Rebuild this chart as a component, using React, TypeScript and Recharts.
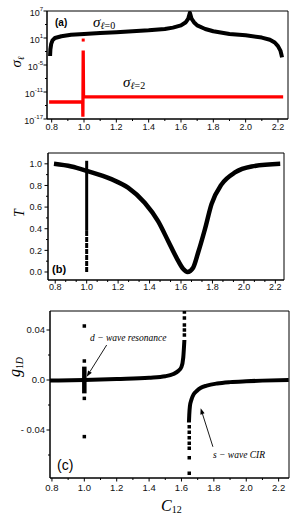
import React from 'react';
import { ComposedChart, Line, Scatter, XAxis, YAxis, ReferenceLine, ReferenceArea } from 'recharts';

// ---------- Panel (a): cross sections (log scale) ----------
const sigma0Points: [number, number][] = [
  [0.79, 1e-3], [0.792, 3e-2], [0.797, 0.5], [0.805, 3], [0.82, 10], [0.86, 25], [0.92, 50],
  [1.0, 80], [1.1, 125], [1.2, 200], [1.3, 316], [1.4, 500], [1.5, 1000], [1.55, 2000],
  [1.6, 6300], [1.63, 3.2e4], [1.645, 2e5], [1.655, 4e6], [1.665, 2e5], [1.68, 3.2e4],
  [1.7, 6300], [1.75, 1000], [1.8, 316], [1.9, 80], [2.0, 40], [2.1, 12.5], [2.15, 4],
  [2.18, 1], [2.2, 0.16], [2.215, 0.016], [2.222, 1.6e-3], [2.225, 5e-4],
];
const sigma2Points: [number, number][] = [
  [0.784, 6e-14], [0.992, 6e-14], [0.993, 3e-17], [0.995, 1.6e-2], [0.997, 8e-13], [2.232, 8e-13],
];
const sigma2Dots: [number, number][] = [[0.995, 3.5]];

// ---------- Panel (b): transmission ----------
const tPoints: [number, number][] = [
  [0.792, 1.0], [0.903, 0.975], [1.0, 0.935], [1.157, 0.858], [1.263, 0.78], [1.369, 0.64],
  [1.454, 0.47], [1.518, 0.287], [1.571, 0.133], [1.613, 0.03], [1.641, 0.0], [1.677, 0.04],
  [1.709, 0.18], [1.752, 0.395], [1.794, 0.627], [1.858, 0.81], [1.943, 0.92], [2.049, 0.975],
  [2.231, 1.0],
];
const tResSolid: [number, number][] = [[1.0, 1.028], [1.0, 0.38]];
const tResDashed: [number, number][] = [[1.0, 0.38], [1.0, 0.0]];

// ---------- Panel (c): effective 1D coupling ----------
const gLeftLine: [number, number][] = [
  [0.785, -0.0005], [1.0, 0.0], [1.2, 0.0008], [1.4, 0.0018], [1.5, 0.003], [1.55, 0.0048],
  [1.58, 0.0072], [1.6, 0.0105], [1.611, 0.018], [1.618, 0.032],
];
const gLeftDots: [number, number][] = [
  [1.618, 0.0544], [1.618, 0.0496], [1.618, 0.044], [1.618, 0.04], [1.618, 0.036],
];
const gRightDots: [number, number][] = [
  [1.648, -0.0374], [1.648, -0.0418], [1.648, -0.0462], [1.648, -0.0506], [1.648, -0.0546],
  [1.648, -0.0622], [1.648, -0.0746],
];
const gRightLine: [number, number][] = [
  [1.646, -0.034], [1.648, -0.028], [1.652, -0.021], [1.662, -0.0155], [1.675, -0.0115],
  [1.694, -0.0088], [1.72, -0.0062], [1.756, -0.0045], [1.82, -0.0028], [1.9, -0.0017],
  [2.0, -0.001], [2.1, -0.0005], [2.262, 0.0],
];
const gResSolid: [number, number][] = [[1.0, 0.0107], [1.0, -0.0107]];
const gResDots: [number, number][] = [[1.0, 0.0432], [1.0, 0.0152], [1.0, -0.0147], [1.0, -0.0453]];

// ---------- Ticks ----------
const xMajor = [0.8, 1.0, 1.2, 1.4, 1.6, 1.8, 2.0, 2.2];
const xMinorHalf = [0.9, 1.1, 1.3, 1.5, 1.7, 1.9, 2.1];
const xMinorThird = xMajor.flatMap((m) => [m + 0.2 / 3, m + 0.4 / 3]).filter((v) => v < 2.25);
const aYMajor = [1e-17, 1e-11, 1e-5, 1e1, 1e7];
const aYMinor = [1e-14, 1e-8, 1e-2, 1e4];
const bYMajor = [0, 0.2, 0.4, 0.6, 0.8, 1.0];
const bYMinor = [0.1, 0.3, 0.5, 0.7, 0.9];
const cYMajor = [-0.04, 0, 0.04];
const cYMinor = [-0.06, -0.02, 0.02];
const cYLabels: Record<string, string> = { '-0.04': '- 0.04', '0': '0.0', '0.04': '0.04' };

const toXY = (pts: [number, number][]) => pts.map(([x, y]) => ({ x, y }));

const SANS = 'Liberation Sans, Arial, sans-serif';
const SERIF = 'Liberation Serif, Times New Roman, serif';

const isIn = (arr: number[], v: number) => arr.some((m) => Math.abs(m - v) < 1e-9);

const makeXTick = (margin: number, fs: number) => (p: any) => {
  const v = p.payload.value;
  const major = xMajor.some((m) => Math.abs(m - v) < 1e-6);
  const ay = p.y - margin;
  return (
    <g>
      <line x1={p.x} x2={p.x} y1={ay} y2={ay + (major ? 3.5 : 2)} stroke="#000" strokeWidth={1} />
      {major && (
        <text x={p.x} y={p.y} dy="0.71em" textAnchor="middle" fontSize={fs} fontFamily={SANS} fill="#111">
          {v.toFixed(1)}
        </text>
      )}
    </g>
  );
};

const makeYTick = (margin: number, majors: number[], fmt: (v: number) => React.ReactNode, fs: number) => (p: any) => {
  const v = p.payload.value;
  const major = isIn(majors, v);
  const ax = p.x + margin;
  return (
    <g>
      <line x1={ax} x2={ax - (major ? 3.5 : 2)} y1={p.y} y2={p.y} stroke="#000" strokeWidth={1} />
      {major && (
        <text x={p.x} y={p.y} dy="0.355em" textAnchor="end" fontSize={fs} fontFamily={SANS} fill="#111">
          {fmt(v)}
        </text>
      )}
    </g>
  );
};

const logTick = (p: any) => {
  const v = p.payload.value;
  const exp = Math.round(Math.log10(v));
  const major = aYMajor.some((m) => Math.round(Math.log10(m)) === exp);
  const ax = p.x + 4;
  return (
    <g>
      <line x1={ax} x2={ax - (major ? 3.5 : 2)} y1={p.y} y2={p.y} stroke="#000" strokeWidth={1} />
      {major && (
        <text x={p.x} y={p.y + 4.5} textAnchor="end" fontFamily={SANS} fill="#111">
          <tspan fontSize={9}>10</tspan>
          <tspan fontSize={6} dy={-5}>{exp}</tspan>
        </text>
      )}
    </g>
  );
};

const squareShape = (size: number, color: string) => (p: any) =>
  <rect x={p.cx - size / 2} y={p.cy - size / 2} width={size} height={size} fill={color} />;

const Arrow = (p: any) => {
  const { x1, y1, x2, y2 } = p;
  const dx = x2 - x1;
  const dy = y2 - y1;
  const L = Math.sqrt(dx * dx + dy * dy) || 1;
  const ux = dx / L;
  const uy = dy / L;
  const hl = 6;
  const hw = 2.2;
  const bx = x2 - ux * hl;
  const by = y2 - uy * hl;
  return (
    <g>
      <line x1={x1} y1={y1} x2={bx} y2={by} stroke="#000" strokeWidth={0.9} />
      <polygon
        points={`${x2},${y2} ${bx - uy * hw},${by + ux * hw} ${bx + uy * hw},${by - ux * hw}`}
        fill="#000"
      />
    </g>
  );
};

const aXDomain: [number, number] = [0.771, 2.262];
const bXDomain: [number, number] = [0.754, 2.255];
const cXDomain: [number, number] = [0.788, 2.264];
const aYDomain: [number, number] = [1e-17, 1e7];
const bYDomain: [number, number] = [-0.074, 1.1];
const cYDomain: [number, number] = [-0.0784, 0.0552];

export default function App() {
  return (
    <div style={{ position: 'absolute', left: 0, top: 0, width: 291, height: 518, background: '#fff' }}>
      {/* Panel (a) */}
      <div style={{ position: 'absolute', left: 0, top: 0 }}>
        <ComposedChart width={291} height={139} margin={{ top: 11, right: 3, bottom: 0, left: 0 }}>
          <XAxis
            type="number" dataKey="x" domain={aXDomain} allowDataOverflow
            ticks={[...xMajor, ...xMinorHalf]} interval={0} tickSize={0} tickLine={false} tickMargin={5}
            tick={makeXTick(5, 9)} height={20} axisLine={{ stroke: '#000' }}
          />
          <YAxis
            type="number" dataKey="y" scale="log" domain={aYDomain} allowDataOverflow
            ticks={[...aYMajor, ...aYMinor]} interval={0} tickSize={0} tickLine={false} tickMargin={4}
            tick={logTick} width={47} axisLine={{ stroke: '#000' }}
          />
          <ReferenceArea x1={aXDomain[0]} x2={aXDomain[1]} y1={aYDomain[0]} y2={aYDomain[1]} fill="none" stroke="#000" strokeWidth={1} ifOverflow="visible" />
          <Line data={toXY(sigma2Points)} dataKey="y" stroke="#ff0000" strokeWidth={3.3} dot={false} activeDot={false} isAnimationActive={false} type="linear" />
          <Scatter data={toXY(sigma2Dots)} dataKey="y" fill="#ff0000" shape={squareShape(3, '#ff0000')} isAnimationActive={false} />
          <Line data={toXY(sigma0Points)} dataKey="y" stroke="#000" strokeWidth={4} strokeLinejoin="round" dot={false} activeDot={false} isAnimationActive={false} type="linear" />
        </ComposedChart>
      </div>

      {/* Panel (b) */}
      <div style={{ position: 'absolute', left: 0, top: 140 }}>
        <ComposedChart width={291} height={160} margin={{ top: 13, right: 7, bottom: 0, left: 0 }}>
          <XAxis
            type="number" dataKey="x" domain={bXDomain} allowDataOverflow
            ticks={[...xMajor, ...xMinorThird]} interval={0} tickSize={0} tickLine={false} tickMargin={4}
            tick={makeXTick(4, 9)} height={20} axisLine={{ stroke: '#000' }}
          />
          <YAxis
            type="number" dataKey="y" domain={bYDomain} allowDataOverflow
            ticks={[...bYMajor, ...bYMinor]} interval={0} tickSize={0} tickLine={false} tickMargin={6}
            tick={makeYTick(6, bYMajor, (v) => v.toFixed(1), 9)} width={48} axisLine={{ stroke: '#000' }}
          />
          <ReferenceArea x1={bXDomain[0]} x2={bXDomain[1]} y1={bYDomain[0]} y2={bYDomain[1]} fill="none" stroke="#000" strokeWidth={1} ifOverflow="visible" />
          <Line data={toXY(tResSolid)} dataKey="y" stroke="#000" strokeWidth={3} dot={false} activeDot={false} isAnimationActive={false} type="linear" />
          <Line data={toXY(tResDashed)} dataKey="y" stroke="#000" strokeWidth={3} strokeDasharray="5 1" dot={false} activeDot={false} isAnimationActive={false} type="linear" />
          <Line data={toXY(tPoints)} dataKey="y" stroke="#000" strokeWidth={4.5} dot={false} activeDot={false} isAnimationActive={false} type="monotone" />
        </ComposedChart>
      </div>

      {/* Panel (c) */}
      <div style={{ position: 'absolute', left: 0, top: 300 }}>
        <ComposedChart width={291} height={218} margin={{ top: 11, right: 2, bottom: 0, left: 0 }}>
          <XAxis
            type="number" dataKey="x" domain={cXDomain} allowDataOverflow
            ticks={[...xMajor, ...xMinorHalf]} interval={0} tickSize={0} tickLine={false} tickMargin={6}
            tick={makeXTick(6, 9.5)} height={40} axisLine={{ stroke: '#000' }}
          />
          <YAxis
            type="number" dataKey="y" domain={cYDomain} allowDataOverflow
            ticks={[...cYMajor, ...cYMinor]} interval={0} tickSize={0} tickLine={false} tickMargin={5}
            tick={makeYTick(5, cYMajor, (v) => cYLabels[String(Math.round(v * 100) / 100)] ?? String(v), 9.5)}
            width={50} axisLine={{ stroke: '#000' }}
          />
          <ReferenceArea x1={cXDomain[0]} x2={cXDomain[1]} y1={cYDomain[0]} y2={cYDomain[1]} fill="none" stroke="#000" strokeWidth={1} ifOverflow="visible" />
          <Line data={toXY(gLeftLine)} dataKey="y" stroke="#000" strokeWidth={4} dot={false} activeDot={false} isAnimationActive={false} type="monotone" />
          <Line data={toXY(gRightLine)} dataKey="y" stroke="#000" strokeWidth={4} dot={false} activeDot={false} isAnimationActive={false} type="monotone" />
          <Line data={toXY(gResSolid)} dataKey="y" stroke="#000" strokeWidth={4.5} dot={false} activeDot={false} isAnimationActive={false} type="linear" />
          <Scatter data={toXY(gLeftDots)} dataKey="y" fill="#000" shape={squareShape(3.5, '#000')} isAnimationActive={false} />
          <Scatter data={toXY(gRightDots)} dataKey="y" fill="#000" shape={squareShape(3.5, '#000')} isAnimationActive={false} />
          <Scatter data={toXY(gResDots)} dataKey="y" fill="#000" shape={squareShape(3.5, '#000')} isAnimationActive={false} />
          <ReferenceLine segment={[{ x: 1.138, y: 0.028 }, { x: 1.015, y: 0.0026 }]} shape={Arrow} ifOverflow="visible" />
          <ReferenceLine segment={[{ x: 1.794, y: -0.0534 }, { x: 1.7185, y: -0.0226 }]} shape={Arrow} ifOverflow="visible" />
        </ComposedChart>
      </div>

      {/* Text overlay */}
      <svg width={291} height={518} style={{ position: 'absolute', left: 0, top: 0, pointerEvents: 'none' }}>
        {/* panel a */}
        <text x={55} y={25.5} fontSize={10} fontWeight="bold" fontFamily={SANS} fill="#000">(a)</text>
        <text x={93} y={27} fontFamily={SERIF} fill="#000">
          <tspan fontSize={15} fontStyle="italic">σ</tspan>
          <tspan fontSize={10} fontStyle="italic" dy={2}>ℓ</tspan>
          <tspan fontSize={10}>=0</tspan>
        </text>
        <text x={123} y={87} fontFamily={SERIF} fill="#000">
          <tspan fontSize={15} fontStyle="italic">σ</tspan>
          <tspan fontSize={10} fontStyle="italic" dy={2}>ℓ</tspan>
          <tspan fontSize={10}>=2</tspan>
        </text>
        <text transform="translate(21,62) rotate(-90)" textAnchor="middle" fontFamily={SERIF} fill="#000">
          <tspan fontSize={15} fontStyle="italic">σ</tspan>
          <tspan fontSize={9} fontStyle="italic" dy={3}>ℓ</tspan>
        </text>
        {/* panel b */}
        <text x={52} y={272.5} fontSize={11} fontWeight="bold" fontFamily={SANS} fill="#000">(b)</text>
        <text transform="translate(23.5,213) rotate(-90)" textAnchor="middle" fontSize={14} fontStyle="italic" fontFamily={SERIF} fill="#000">T</text>
        {/* panel c */}
        <text x={57} y={469.5} fontSize={14} fontFamily={SANS} fill="#000">(c)</text>
        <text x={90} y={340.7} fontSize={9.5} fontStyle="italic" fontFamily={SERIF} fill="#000">d − wave resonance</text>
        <text x={213} y={458.3} fontSize={9.5} fontStyle="italic" fontFamily={SERIF} fill="#000">s − wave CIR</text>
        <text transform="translate(20,367) rotate(-90)" textAnchor="middle" fontFamily={SERIF} fill="#000">
          <tspan fontSize={16} fontStyle="italic">g</tspan>
          <tspan fontSize={10} dy={3}>1</tspan>
          <tspan fontSize={10} fontStyle="italic">D</tspan>
        </text>
        <text x={161} y={511} fontFamily={SERIF} fill="#000">
          <tspan fontSize={16} fontStyle="italic">C</tspan>
          <tspan fontSize={10} dy={2}>12</tspan>
        </text>
      </svg>
    </div>
  );
}
